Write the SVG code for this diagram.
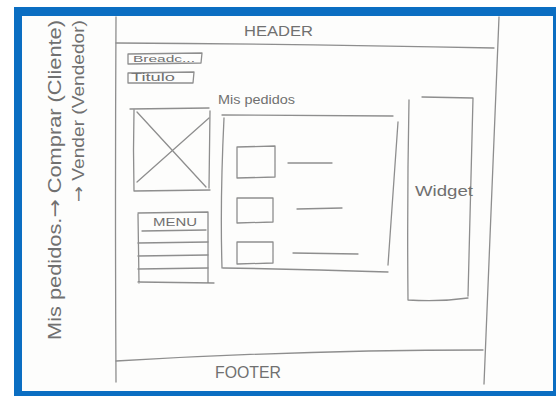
<svg xmlns="http://www.w3.org/2000/svg" width="556" height="396" viewBox="0 0 556 396">
<style>
.ln{fill:none;stroke:#8e8e8e;stroke-width:1.3;stroke-linecap:round;stroke-linejoin:round}
.tx{font-family:"Liberation Sans","DejaVu Sans",sans-serif;fill:#707070}
.ar{font-family:"DejaVu Sans",sans-serif}
</style>
<rect x="0" y="0" width="556" height="396" fill="#ffffff"/>
<rect x="14" y="7" width="542" height="389" fill="#0B6EC2"/>
<rect x="22" y="16" width="531" height="375" fill="#fdfdfc"/>
<g id="page">
<path class="ln" d="M116 17 Q115 200 116 382"/>
<path class="ln" d="M499 17 L484 384"/>
</g>
<g id="header">
<path class="ln" d="M116 43 Q300 44 494 48"/>
<text class="tx" x="244" y="36" font-size="15" textLength="69" lengthAdjust="spacingAndGlyphs">HEADER</text>
</g>
<g id="footer">
<path class="ln" d="M116 361 Q300 350 483 350"/>
<text class="tx" x="215" y="378" font-size="17" textLength="66" lengthAdjust="spacingAndGlyphs">FOOTER</text>
</g>
<g id="side-note">
<text class="tx" font-size="19" transform="translate(61,340) rotate(-90)" x="0" y="0" textLength="320" lengthAdjust="spacingAndGlyphs">Mis pedidos.<tspan class="ar">→</tspan> Comprar (Cliente)</text>
<text class="tx" font-size="16" transform="translate(84,202) rotate(-90)" x="0" y="0" textLength="182" lengthAdjust="spacingAndGlyphs"><tspan class="ar">→</tspan> Vender (Vendedor)</text>
</g>
<g id="breadcrumb">
<path class="ln" d="M128 54 L202 53 L201 63 L128 64 Z"/>
<text class="tx" x="133" y="62" font-size="9" textLength="62" lengthAdjust="spacingAndGlyphs">Breadc...</text>
</g>
<g id="titulo">
<path class="ln" d="M128 73 L194 72 L193 83 L128 83 Z"/>
<text class="tx" x="131" y="81" font-size="10" textLength="44" lengthAdjust="spacingAndGlyphs">Titulo</text>
</g>
<g id="image-placeholder">
<path class="ln" d="M130 109 L209 108 M134 110 Q133 150 134 191 L210 190 M210 111 L209 188"/>
<path class="ln" d="M137 112 L206 187 M209 118 L137 182"/>
</g>
<g id="menu">
<path class="ln" d="M138 213 L208 212 M138 214 L139 283 M208 212 L208 282 M138 282 L214 283"/>
<path class="ln" d="M142 231 L206 230 M138 243 L208 242 M138 256 L208 255 M138 269 L208 268"/>
<text class="tx" x="153" y="226" font-size="10" textLength="44" lengthAdjust="spacingAndGlyphs">MENU</text>
</g>
<g id="mis-pedidos">
<text class="tx" x="218" y="104" font-size="12" textLength="77" lengthAdjust="spacingAndGlyphs">Mis pedidos</text>
<path class="ln" d="M222 115 L393 116 M224 118 Q220 200 222 268 M398 122 L388 265 M223 268 Q300 269 388 272"/>
<path class="ln" d="M237 147 L275 146 L275 177 L237 178 Z M288 163 L332 163"/>
<path class="ln" d="M237 198 L273 198 L273 222 L237 223 Z M297 209 L342 208"/>
<path class="ln" d="M237 242 L273 242 L273 263 L237 264 Z M293 253 L358 254"/>
</g>
<g id="widget">
<path class="ln" d="M409 100 Q407 200 408 300 M422 97 L473 98 M473 98 L468 296 M408 300 Q440 302 468 298"/>
<text class="tx" x="415" y="196" font-size="14" textLength="58" lengthAdjust="spacingAndGlyphs">Widget</text>
</g>
<g id="connectors"/>
</svg>
